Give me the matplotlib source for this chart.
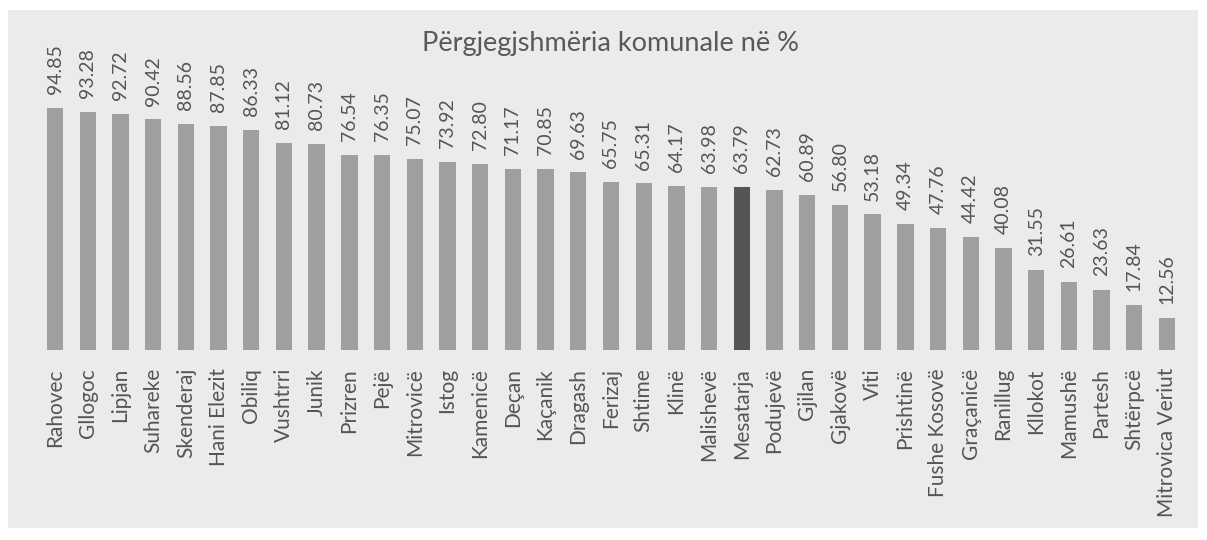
import matplotlib
matplotlib.use("Agg")
import matplotlib.pyplot as plt
from matplotlib.patches import Rectangle

categories = ["Rahovec", "Gllogoc", "Lipjan", "Suhareke", "Skenderaj", "Hani Elezit",
              "Obiliq", "Vushtrri", "Junik", "Prizren", "Pejë", "Mitrovicë", "Istog",
              "Kamenicë", "Deçan", "Kaçanik", "Dragash", "Ferizaj", "Shtime", "Klinë",
              "Malishevë", "Mesatarja", "Podujevë", "Gjilan", "Gjakovë", "Viti",
              "Prishtinë", "Fushe Kosovë", "Graçanicë", "Ranillug", "Kllokot", "Mamushë",
              "Partesh", "Shtërpcë", "Mitrovica Veriut"]
values = [94.85, 93.28, 92.72, 90.42, 88.56, 87.85, 86.33, 81.12, 80.73, 76.54, 76.35,
          75.07, 73.92, 72.80, 71.17, 70.85, 69.63, 65.75, 65.31, 64.17, 63.98, 63.79,
          62.73, 60.89, 56.80, 53.18, 49.34, 47.76, 44.42, 40.08, 31.55, 26.61, 23.63,
          17.84, 12.56]
labels = ["%.2f" % v for v in values]
highlight = "Mesatarja"

W, H = 1207, 540
fig = plt.figure(figsize=(W / 100, H / 100), dpi=100)
fig.patch.set_facecolor("white")
bg = Rectangle((8 / W, 12 / H), 1190 / W, 518 / H, transform=fig.transFigure,
               facecolor="#ebebeb", edgecolor="none", zorder=-10)
fig.patches.append(bg)

n = len(categories)
step = (1167 - 55) / (n - 1)
left_px = 55 - step / 2
ax = fig.add_axes([left_px / W, (H - 350) / H, n * step / W, 255 / H])
ax.set_zorder(5)
ax.set_xlim(-0.5, n - 0.5)
ax.set_ylim(0, 100)
ax.set_facecolor("none")
ax.patch.set_alpha(0)
for s in ax.spines.values():
    s.set_visible(False)
ax.set_xticks([])
ax.set_yticks([])

colors = ["#555555" if c == highlight else "#9f9f9f" for c in categories]
x = list(range(n))
ax.bar(x, values, width=0.5, color=colors, zorder=2)

font = "Lato"
for xi, v, lab in zip(x, values, labels):
    ax.annotate(lab, (xi, v), xytext=(0, 10), textcoords="offset points",
                rotation=90, ha="center", va="bottom", fontsize=14,
                color="#555555", family=font, annotation_clip=False)
    ax.annotate(categories[xi], (xi, 0), xytext=(0, -13), textcoords="offset points",
                rotation=90, ha="center", va="top", fontsize=15,
                color="#555555", family=font, annotation_clip=False)

fig.text(610 / W, 1 - 43 / H, "Përgjegjshmëria komunale në %", ha="center", va="center",
         fontsize=19.5, color="#595959", family=font)

fig.savefig("out.png", dpi=100)
